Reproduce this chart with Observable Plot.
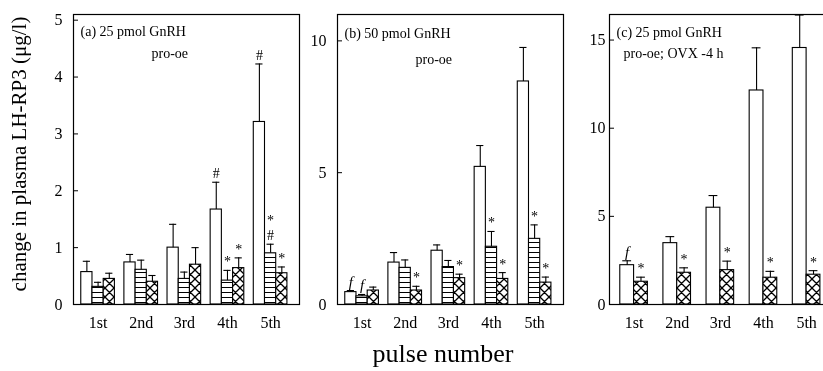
<!DOCTYPE html>
<html><head><meta charset="utf-8">
<script src="https://cdn.jsdelivr.net/npm/d3@7"></script>
<script src="https://cdn.jsdelivr.net/npm/@observablehq/plot@0.6"></script>
<style>
html,body{margin:0;padding:0;background:#fff;overflow:hidden}
#wrap{position:relative;width:823px;height:371px;overflow:hidden;font-family:"Liberation Serif",serif;background:#fff;filter:grayscale(1)}
#wrap > svg{position:absolute;top:0}
</style></head><body><div id="wrap"></div>
<script>
// ---- data ----
const pulses = ["1st", "2nd", "3rd", "4th", "5th"];

// panel (a) 25 pmol GnRH, pro-oe
const aOpen = [0.57, 0.74, 1.00, 1.67, 3.21];
const aOpenSem = [0.19, 0.14, 0.41, 0.48, 1.02];
const aStripe = [0.31, 0.61, 0.45, 0.42, 0.90];
const aStripeSem = [0.08, 0.17, 0.12, 0.18, 0.16];
const aCross = [0.45, 0.40, 0.70, 0.64, 0.55];
const aCrossSem = [0.10, 0.11, 0.30, 0.18, 0.11];
const aNotes = [[4, "open", "#", 0], [4, "stripe", "*", 0], [4, "cross", "*", 0],
                [5, "open", "#", 0], [5, "stripe", "#", 0], [5, "stripe", "*", 1], [5, "cross", "*", 0]];

// panel (b) 50 pmol GnRH, pro-oe
const bOpen = [0.47, 1.59, 2.04, 5.22, 8.46];
const bOpenSem = [0.06, 0.38, 0.22, 0.81, 1.29];
const bStripe = [0.31, 1.39, 1.42, 2.19, 2.49];
const bStripeSem = [0.07, 0.30, 0.25, 0.58, 0.53];
const bCross = [0.53, 0.53, 1.00, 0.97, 0.83];
const bCrossSem = [0.13, 0.16, 0.15, 0.24, 0.21];
const bNotes = [[1, "open", "f", 0], [1, "stripe", "f", 0], [2, "cross", "*", 0], [3, "cross", "*", 0],
                [4, "stripe", "*", 0], [4, "cross", "*", 0], [5, "stripe", "*", 0], [5, "cross", "*", 0]];

// panel (c) 25 pmol GnRH, pro-oe; OVX -4 h
const cOpen = [2.23, 3.48, 5.49, 12.14, 14.55];
const cOpenSem = [0.25, 0.37, 0.69, 2.42, 1.87];
const cCross = [1.29, 1.80, 1.95, 1.52, 1.69];
const cCrossSem = [0.26, 0.28, 0.51, 0.36, 0.23];
const cNotes = [[1, "open", "f", 0], [1, "cross", "*", 0], [2, "cross", "*", 0], [3, "cross", "*", 0],
                [4, "cross", "*", 0], [5, "cross", "*", 0]];

const fills = {open: "white", stripe: "url(#stripes)", cross: "url(#crosshatch)"};

// ---- patterns ----
const wrap = document.getElementById("wrap");
const ns = "http://www.w3.org/2000/svg";
const defsSvg = document.createElementNS(ns, "svg");
defsSvg.setAttribute("width", 0); defsSvg.setAttribute("height", 0);
defsSvg.innerHTML = `<defs>
<pattern id="stripes" patternUnits="userSpaceOnUse" width="6" height="5">
  <rect width="6" height="5" fill="white"/><line x1="0" y1="2.5" x2="6" y2="2.5" stroke="black" stroke-width="1"/>
</pattern>
<pattern id="crosshatch" patternUnits="userSpaceOnUse" width="9" height="9">
  <rect width="9" height="9" fill="white"/>
  <path d="M0,0L9,9M9,0L0,9M-1,8L1,10M8,-1L10,1M-1,1L1,-1M8,10L10,8" stroke="black" stroke-width="1.3"/>
</pattern></defs>`;
wrap.appendChild(defsSvg);

function makeRows(series) {
  const rows = [];
  series.forEach(([name, vals, sems], k) => {
    vals.forEach((v, j) => rows.push({i: j + 1, s: name, k, value: v, sem: sems[j]}));
  });
  return rows;
}

function panel({series, notes, title, sub, subDx, subDy, titleDy, yMax, yTicks, w, tickPad, left}) {
  const n = series.length;
  const rows = makeRows(series);
  const c = d => d.i + (d.k - n / 2 + 0.5) * w;
  const top = d => d.value + d.sem;
  const noteRows = notes.map(([i, s, sym, lvl]) => {
    const r = rows.find(r => r.i === i && r.s === s);
    return {...r, sym, lvl};
  });
  const cap = w * 0.32;
  const marks = [];
  for (const [name] of series) {
    marks.push(Plot.rectY(rows.filter(r => r.s === name), {
      x1: d => c(d) - w / 2, x2: d => c(d) + w / 2, y1: 0, y2: "value",
      fill: fills[name], stroke: "black", strokeWidth: 1.1
    }));
  }
  marks.push(
    Plot.ruleX(rows, {x: c, y1: "value", y2: top, stroke: "black", strokeWidth: 1.1}),
    Plot.ruleY(rows, {y: top, x1: d => c(d) - cap, x2: d => c(d) + cap, stroke: "black", strokeWidth: 1.1}),
    Plot.text(noteRows.filter(d => d.sym !== "f" && d.lvl === 0), {x: c, y: top, text: "sym", lineAnchor: "bottom", dy: -4, fontSize: 14, fill: "black"}),
    Plot.text(noteRows.filter(d => d.sym !== "f" && d.lvl === 1), {x: c, y: top, text: "sym", lineAnchor: "bottom", dy: -19, fontSize: 14, fill: "black"}),
    Plot.text(noteRows.filter(d => d.sym === "f"), {x: c, y: top, text: "sym", lineAnchor: "bottom", dy: -4, fontSize: 15, fontStyle: "italic", fill: "black"}),
    Plot.text([title], {frameAnchor: "top-left", text: d => d, textAnchor: "start", lineAnchor: "bottom", dx: 7, dy: titleDy, fontSize: 14, fill: "black"}),
    Plot.text([sub], {frameAnchor: "top-left", text: d => d, textAnchor: "start", lineAnchor: "bottom", dx: subDx, dy: subDy, fontSize: 14, fill: "black"}),
    Plot.axisY({ticks: yTicks, tickFormat: d => String(d), tickSize: -5, tickPadding: tickPad, fontSize: 16, label: null}),
    Plot.axisX({ticks: [1, 2, 3, 4, 5], tickFormat: i => pulses[i - 1], tickSize: 0, tickPadding: 12, fontSize: 16, label: null}),
    Plot.frame({stroke: "black", strokeWidth: 1.2})
  );
  const svg = Plot.plot({
    width: 267, height: 335, marginTop: 14, marginBottom: 31, marginLeft: 40, marginRight: 1,
    style: {fontFamily: "Liberation Serif", fontSize: "16px", background: "transparent", overflow: "visible", color: "black"},
    x: {type: "linear", domain: [0.43, 5.67]},
    y: {domain: [0, yMax]},
    marks
  });
  svg.style.position = "absolute";
  svg.style.left = left + "px";
  svg.style.top = "0px";
  svg.style.maxWidth = "none";
  wrap.appendChild(svg);
}

panel({
  series: [["open", aOpen, aOpenSem], ["stripe", aStripe, aStripeSem], ["cross", aCross, aCrossSem]],
  notes: aNotes, title: "(a) 25 pmol GnRH", sub: "pro-oe", titleDy: 21, subDx: 78, subDy: 43,
  yMax: 5.1, yTicks: [0, 1, 2, 3, 4, 5], w: 0.26, tickPad: 16, left: 33
});
panel({
  series: [["open", bOpen, bOpenSem], ["stripe", bStripe, bStripeSem], ["cross", bCross, bCrossSem]],
  notes: bNotes, title: "(b) 50 pmol GnRH", sub: "pro-oe", titleDy: 23, subDx: 78, subDy: 49,
  yMax: 11.0, yTicks: [0, 5, 10], w: 0.26, tickPad: 16, left: 297
});
panel({
  series: [["open", cOpen, cOpenSem], ["cross", cCross, cCrossSem]],
  notes: cNotes, title: "(c) 25 pmol GnRH", sub: "pro-oe; OVX -4 h", titleDy: 22, subDx: 14, subDy: 43,
  yMax: 16.45, yTicks: [0, 5, 10, 15], w: 0.32, tickPad: 9, left: 569
});

// overall labels
const lab = document.createElementNS(ns, "svg");
lab.setAttribute("width", 823); lab.setAttribute("height", 371);
lab.style.pointerEvents = "none";
lab.innerHTML = `<text transform="translate(26,154) rotate(-90)" text-anchor="middle" font-family="Liberation Serif" font-size="21">change in plasma LH-RP3 (μg/l)</text>
<text x="443" y="362" text-anchor="middle" font-family="Liberation Serif" font-size="26">pulse number</text>`;
wrap.appendChild(lab);
</script></body></html>
